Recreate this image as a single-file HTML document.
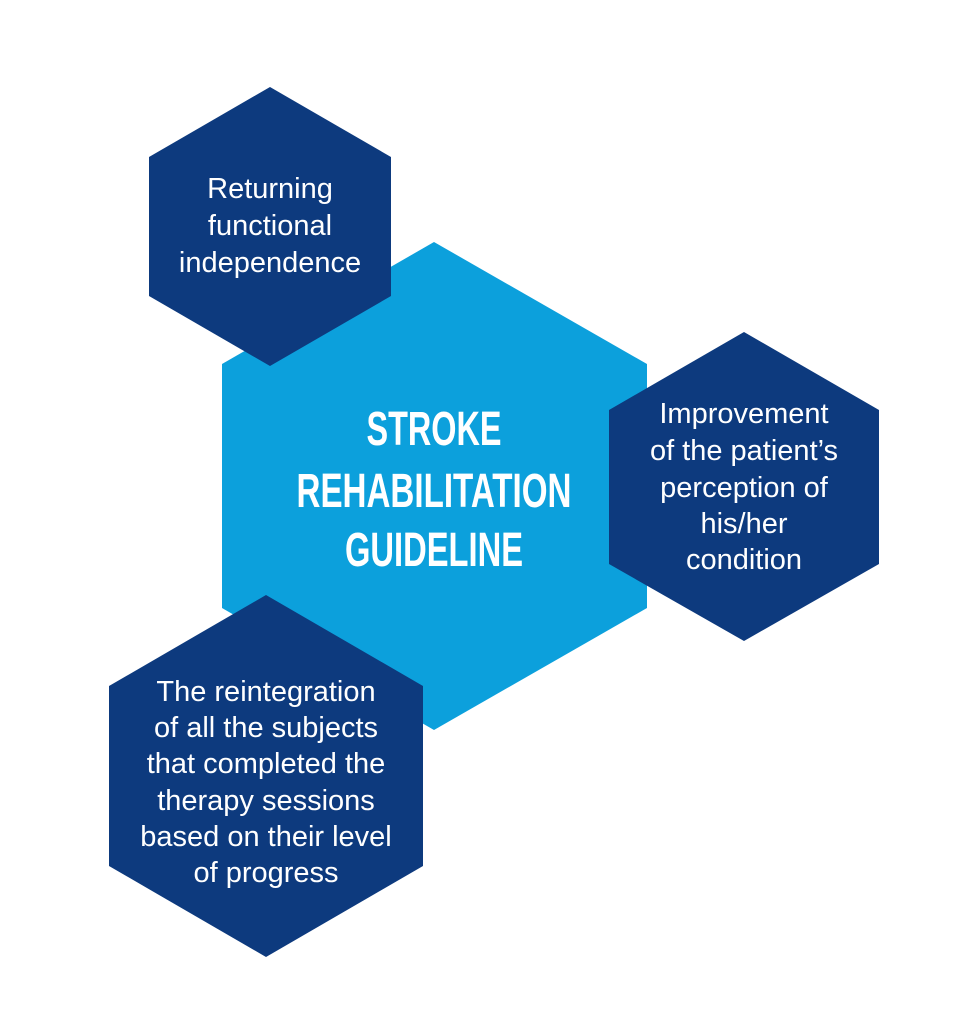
<!DOCTYPE html>
<html><head><meta charset="utf-8"><style>
html,body{margin:0;padding:0;background:#fff;}
svg{display:block;}
.s{font-family:"Liberation Sans",sans-serif;font-size:29px;fill:#fff;text-anchor:middle;}
.t{font-family:"Liberation Sans Narrow","Liberation Sans",sans-serif;font-weight:bold;font-size:48px;fill:#fff;text-anchor:middle;}
</style></head><body>
<svg width="967" height="1024" viewBox="0 0 967 1024" xmlns="http://www.w3.org/2000/svg">
<rect width="967" height="1024" fill="#fff"/>
<polygon points="434,242 647,364 647,608 434,730 222,608 222,364" fill="#0ca0dc"/>
<polygon points="270,87 391,157 391,296 270,366 149,296 149,157" fill="#0d3a7e"/>
<polygon points="744,332 879,410 879,564 744,641 609,564 609,410" fill="#0d3a7e"/>
<polygon points="266,595 423,686 423,866 266,957 109,866 109,686" fill="#0d3a7e"/>
<g class="t">
<text x="434" y="445" textLength="135" lengthAdjust="spacingAndGlyphs">STROKE</text>
<text x="434" y="507" textLength="275" lengthAdjust="spacingAndGlyphs">REHABILITATION</text>
<text x="434" y="566" textLength="178" lengthAdjust="spacingAndGlyphs">GUIDELINE</text>
</g>
<g class="s">
<text x="270" y="198">Returning</text>
<text x="270" y="235">functional</text>
<text x="270" y="272">independence</text>
<text x="744" y="423">Improvement</text>
<text x="744" y="460">of the patient’s</text>
<text x="744" y="497">perception of</text>
<text x="744" y="533">his/her</text>
<text x="744" y="569">condition</text>
<text x="266" y="701">The reintegration</text>
<text x="266" y="737">of all the subjects</text>
<text x="266" y="773">that completed the</text>
<text x="266" y="810">therapy sessions</text>
<text x="266" y="846">based on their level</text>
<text x="266" y="882">of progress</text>
</g>
</svg>
</body></html>
